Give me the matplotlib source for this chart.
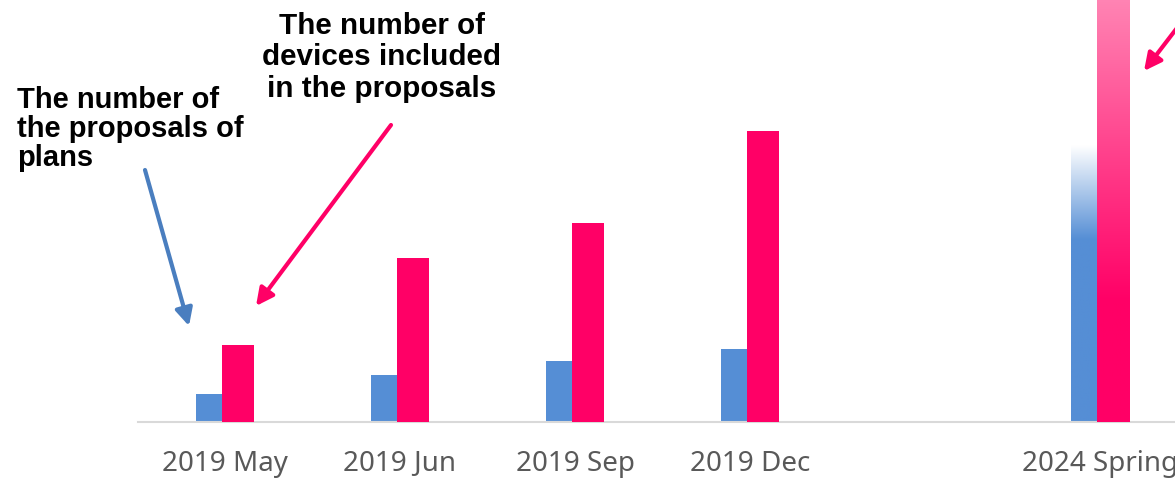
import matplotlib
matplotlib.use("Agg")
import matplotlib.pyplot as plt
import numpy as np
from matplotlib.colors import LinearSegmentedColormap

# ---- data (arbitrary units) ----
categories = ["2019 May", "2019 Jun", "2019 Sep", "2019 Dec", "2024 Spring"]
plans = [28, 47, 61, 73, 277]        # number of proposals of plans
devices = [77, 164, 199, 291, 480]   # number of devices included in the proposals

note_plans = ["The number of", "the proposals of", "plans"]
note_devices = ["The number of", "devices included", "in the proposals"]

# ---- style ----
BLUE = "#558ED5"
PINK = "#FF0066"
W, H = 1175, 480
plt.rcParams["font.family"] = ["Noto Sans", "DejaVu Sans"]
BOLD_FONT = ["Liberation Sans", "DejaVu Sans"]

fig = plt.figure(figsize=(W / 100, H / 100), dpi=100)
ax = fig.add_axes([137.5 / W, 58 / H, 1050 / W, 422 / H])

x = np.arange(len(categories), dtype=float)
x[-1] += 1  # empty slot before the last category

bw = 0.186
off = 0.0745
bars_b = ax.bar(x - off, plans, width=bw, color=BLUE, zorder=2, linewidth=0)
bars_p = ax.bar(x + off, devices, width=bw, color=PINK, zorder=3, linewidth=0)


def gradient_fill(patch, stops, z):
    x0, y0 = patch.get_x(), patch.get_y()
    w, h = patch.get_width(), patch.get_height()
    cmap = LinearSegmentedColormap.from_list("g", stops)
    grad = np.linspace(0, 1, 512).reshape(-1, 1)
    im = ax.imshow(grad, cmap=cmap, extent=[x0, x0 + w, y0, y0 + h],
                   origin="lower", aspect="auto", zorder=z,
                   interpolation="bilinear")
    im.set_clip_path(patch)
    patch.set_facecolor("none")


gradient_fill(bars_b[-1], [(0, BLUE), (0.66, BLUE), (1.0, "#FFFFFF")], 2.1)
gradient_fill(bars_p[-1], [(0, PINK), (0.25, PINK), (1.0, "#FF9DC2")], 3.1)

ax.set_xlim(-0.5, 5.5)
ax.set_ylim(0, 422)
for s in ["top", "left", "right"]:
    ax.spines[s].set_visible(False)
ax.spines["bottom"].set_color("#D9D9D9")
ax.spines["bottom"].set_linewidth(1.5)
ax.set_yticks([])
ax.set_xticks(x)
ax.set_xticklabels(categories, fontsize=20, color="#595959")
ax.tick_params(axis="x", length=0, pad=20.5)
ax.set_facecolor("none")


def fp(px, py):
    return (px / W, 1 - py / H)


for line, by in zip(note_plans, [108, 137, 166]):
    fig.text(*fp(17, by), line, fontsize=21, fontweight="bold",
             family=BOLD_FONT, color="black", ha="left", va="baseline")
for line, by in zip(note_devices, [34, 65, 97]):
    fig.text(*fp(382, by), line, fontsize=21.3, fontweight="bold",
             family=BOLD_FONT, color="black", ha="center", va="baseline")

arrow_kw = dict(xycoords="figure fraction", textcoords="figure fraction")
ax.annotate("", xy=fp(189, 326), xytext=fp(145, 170),
            arrowprops=dict(arrowstyle="-|>", lw=3, color="#4A7EBF",
                            mutation_scale=26, shrinkA=0, shrinkB=0), **arrow_kw)
ax.annotate("", xy=fp(256, 306), xytext=fp(391, 125),
            arrowprops=dict(arrowstyle="-|>", lw=3, color=PINK,
                            mutation_scale=26, shrinkA=0, shrinkB=0), **arrow_kw)
ax.annotate("", xy=fp(1144, 71), xytext=fp(1190, 11),
            arrowprops=dict(arrowstyle="-|>", lw=3, color=PINK,
                            mutation_scale=26, shrinkA=0, shrinkB=0), **arrow_kw)

fig.savefig("out.png", dpi=100)
